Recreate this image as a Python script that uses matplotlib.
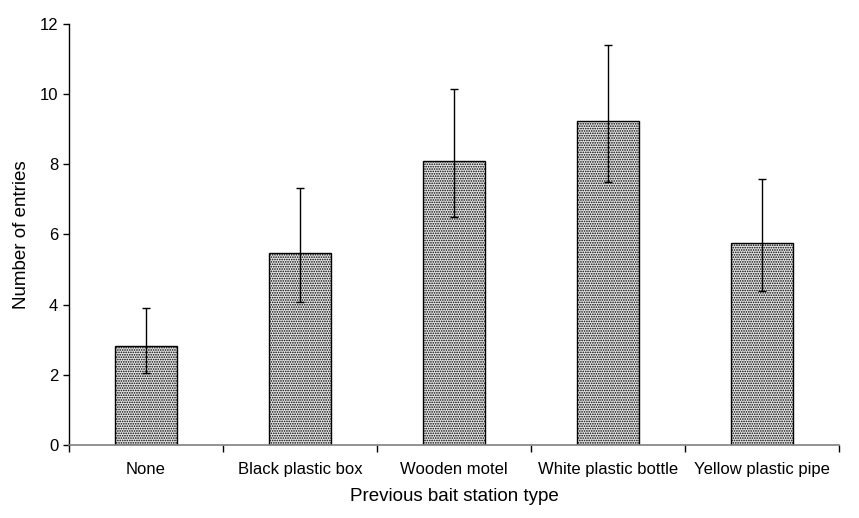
import matplotlib.pyplot as plt
import numpy as np

plt.rcParams['font.family'] = ['Liberation Sans', 'DejaVu Sans']
plt.rcParams['hatch.color'] = '#6e6e6e'
plt.rcParams['hatch.linewidth'] = 0.8

stations = ["None", "Black plastic box", "Wooden motel",
            "White plastic bottle", "Yellow plastic pipe"]
entries = [2.83, 5.47, 8.10, 9.22, 5.75]
upper = [3.90, 7.31, 10.15, 11.40, 7.57]
lower = [2.05, 4.08, 6.50, 7.50, 4.38]

x = np.arange(len(stations))
err = [np.array(entries) - np.array(lower), np.array(upper) - np.array(entries)]

fig = plt.figure(figsize=(8.59, 5.18), dpi=100)
ax = fig.add_axes([0.080, 0.141, 0.897, 0.813])

ax.bar(x, entries, width=0.4, color='#e6e6e6', edgecolor='black',
       linewidth=1.0, hatch='.......', zorder=2)
ax.errorbar(x, entries, yerr=err, fmt='none', ecolor='black',
            elinewidth=1.0, capsize=3, capthick=1.0, zorder=3)

ax.set_xlim(-0.5, len(stations) - 0.5)
ax.set_ylim(0, 12)
ax.set_yticks(range(0, 13, 2))
ax.set_xticks(x)
ax.set_xticklabels(stations)
ax.tick_params(axis='x', length=0, pad=12, labelsize=12)
ax.set_xticks(np.arange(-0.5, len(stations), 1.0), minor=True)
ax.tick_params(axis='x', which='minor', length=5, direction='out', width=1.0)
ax.tick_params(axis='y', length=4, direction='out', labelsize=12, width=1.0)

for s in ['top', 'right']:
    ax.spines[s].set_visible(False)
ax.spines['bottom'].set_color('#808080')
ax.spines['bottom'].set_linewidth(1.2)
ax.spines['left'].set_linewidth(1.0)

ax.set_xlabel("Previous bait station type", fontsize=13.5, labelpad=8)
ax.set_ylabel("Number of entries", fontsize=13.5, labelpad=7)

plt.savefig("out.png", dpi=100)
